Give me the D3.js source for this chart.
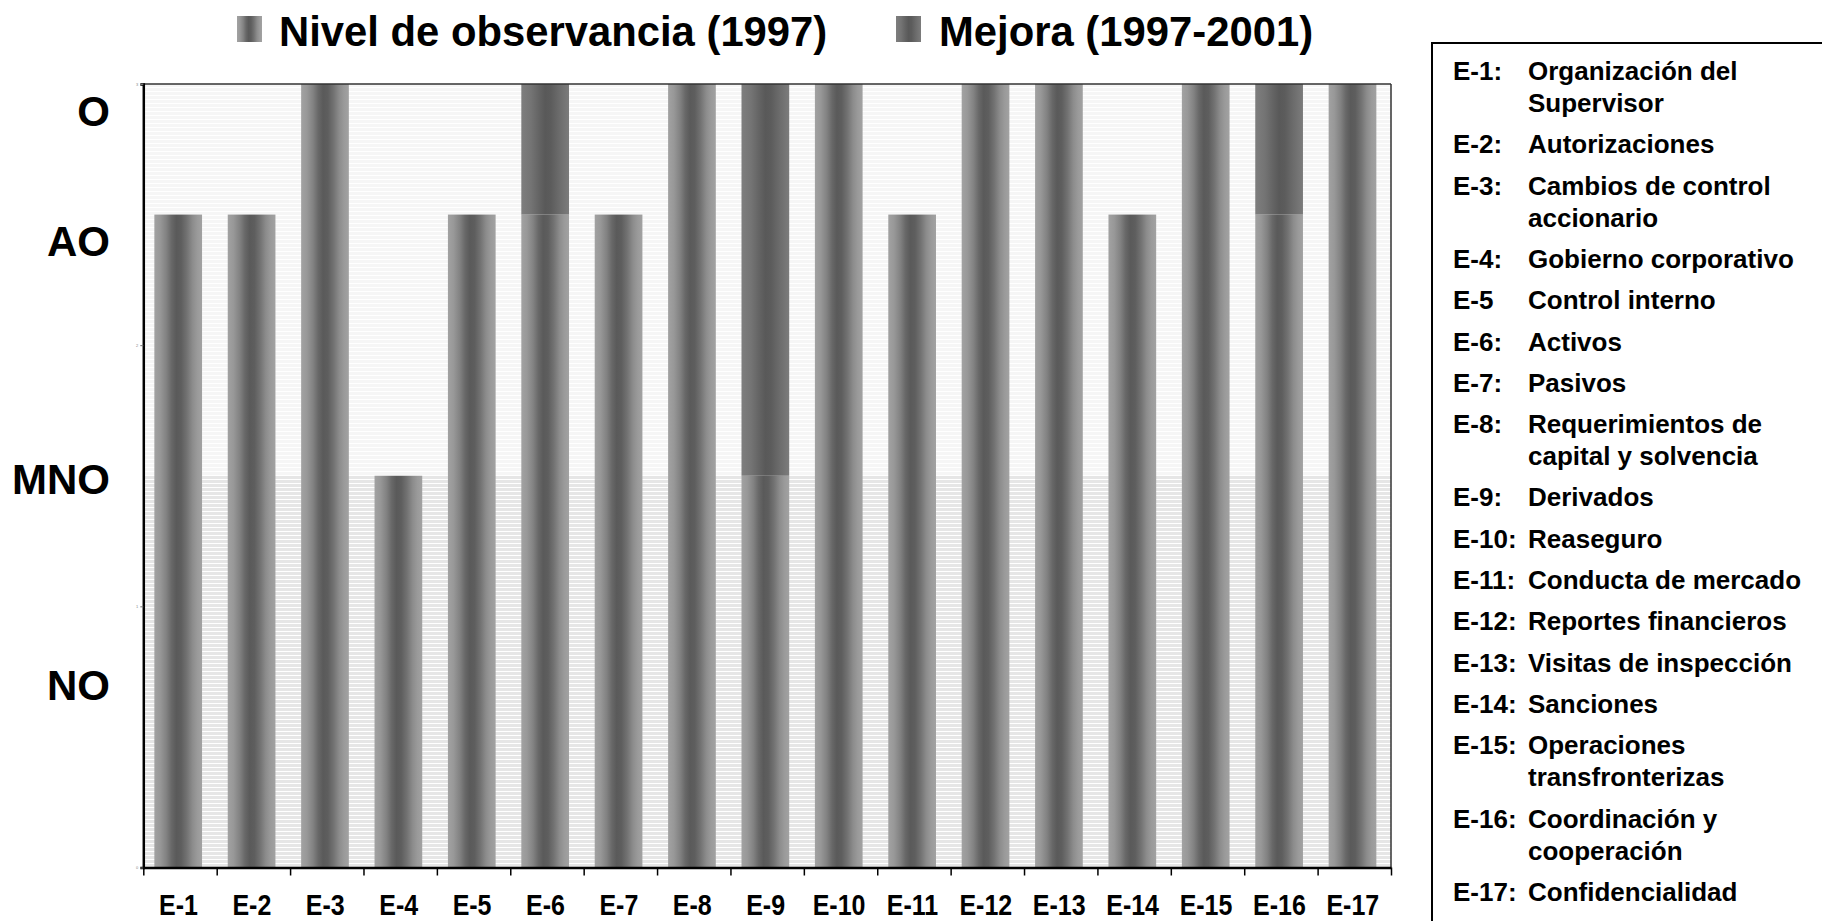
<!DOCTYPE html>
<html>
<head>
<meta charset="utf-8">
<script src="https://cdn.jsdelivr.net/npm/d3@7"></script>
<style>
  html, body { margin: 0; padding: 0; background: #fff; }
  svg { display: block; font-family: "Liberation Sans", Arial, sans-serif; }
</style>
</head>
<body>
<svg id="chart" width="1822" height="921"></svg>
<script>
// ---------- DATA ----------
const categories = ["E-1","E-2","E-3","E-4","E-5","E-6","E-7","E-8","E-9","E-10","E-11","E-12","E-13","E-14","E-15","E-16","E-17"];
const nivel1997  = [2.5, 2.5, 3, 1.5, 2.5, 2.5, 2.5, 3, 1.5, 3, 2.5, 3, 3, 2.5, 3, 2.5, 3];
const mejora     = [0, 0, 0, 0, 0, 0.5, 0, 0, 1.5, 0, 0, 0, 0, 0, 0, 0.5, 0];
const seriesNames = ["Nivel de observancia (1997)", "Mejora (1997-2001)"];
const levelLabels = ["O", "AO", "MNO", "NO"];
const levelLabelValues = [2.84, 2.34, 1.43, 0.64];
const yTickValues = [0, 1, 2, 3];
const zoneSplit = 1.5;
const legendKeys = ["E-1:","E-2:","E-3:","E-4:","E-5","E-6:","E-7:","E-8:","E-9:","E-10:","E-11:","E-12:","E-13:","E-14:","E-15:","E-16:","E-17:"];
const legendDescriptions = [
  ["Organización del","Supervisor"],
  ["Autorizaciones"],
  ["Cambios de control","accionario"],
  ["Gobierno corporativo"],
  ["Control interno"],
  ["Activos"],
  ["Pasivos"],
  ["Requerimientos de","capital y solvencia"],
  ["Derivados"],
  ["Reaseguro"],
  ["Conducta de mercado"],
  ["Reportes financieros"],
  ["Visitas de inspección"],
  ["Sanciones"],
  ["Operaciones","transfronterizas"],
  ["Coordinación y","cooperación"],
  ["Confidencialidad"]
];

// ---------- LAYOUT ----------
const plot = { left: 143.3, right: 1391, top: 84, bottom: 867.5 };
const svg = d3.select("#chart");
const defs = svg.append("defs");

// gradients
function gradient(id, stops) {
  const g = defs.append("linearGradient").attr("id", id)
    .attr("x1", 0).attr("x2", 1).attr("y1", 0).attr("y2", 0);
  stops.forEach(s => g.append("stop").attr("offset", s[0]).attr("stop-color", s[1]));
}
gradient("gBase", [[0,"#a2a2a2"],[0.12,"#989898"],[0.25,"#828282"],[0.36,"#686868"],[0.46,"#5a5a5a"],[0.56,"#5e5e5e"],[0.68,"#727272"],[0.8,"#8c8c8c"],[0.9,"#9a9a9a"],[1,"#a2a2a2"]]);
gradient("gMejora", [[0,"#7e7e7e"],[0.2,"#747474"],[0.38,"#636363"],[0.5,"#595959"],[0.62,"#5c5c5c"],[0.8,"#6c6c6c"],[1,"#7c7c7c"]]);

function stripes(id, base, line) {
  const p = defs.append("pattern").attr("id", id).attr("patternUnits", "userSpaceOnUse")
    .attr("width", 8).attr("height", 4);
  p.append("rect").attr("width", 8).attr("height", 4).attr("fill", base);
  p.append("rect").attr("y", 3).attr("width", 8).attr("height", 1).attr("fill", line);
}
stripes("pUpper", "#f6f6f6", "#ffffff");
stripes("pLower", "#e6e6e6", "#ffffff");

// scales
const y = d3.scaleLinear().domain([0, 3]).range([plot.bottom, plot.top]);
const x = d3.scaleBand().domain(categories).range([plot.left, plot.right])
  .paddingInner(0.35).paddingOuter(0.175);
const xb = d3.scaleLinear().domain([0, categories.length]).range([plot.left, plot.right]);

// background zones
svg.append("rect").attr("x", plot.left).attr("width", plot.right - plot.left)
  .attr("y", y(3)).attr("height", y(zoneSplit) - y(3)).attr("fill", "url(#pUpper)");
svg.append("rect").attr("x", plot.left).attr("width", plot.right - plot.left)
  .attr("y", y(zoneSplit)).attr("height", y(0) - y(zoneSplit)).attr("fill", "url(#pLower)");

// stacked bars
const rows = categories.map((c, i) => ({ cat: c, base: nivel1997[i], mejora: mejora[i] }));
const stack = d3.stack().keys(["base", "mejora"])(rows);
const fills = ["url(#gBase)", "url(#gMejora)"];
const barG = svg.append("g").attr("transform", "translate(-1.8,0)");
stack.forEach((layer, li) => {
  barG.append("g").selectAll("rect")
    .data(layer.filter(d => d[1] - d[0] > 0))
    .join("rect")
    .attr("x", d => x(d.data.cat))
    .attr("width", x.bandwidth())
    .attr("y", d => y(d[1]))
    .attr("height", d => y(d[0]) - y(d[1]))
    .attr("fill", fills[li]);
});

// frame top & right
svg.append("line").attr("x1", plot.left).attr("x2", plot.right).attr("y1", plot.top).attr("y2", plot.top)
  .attr("stroke", "#333").attr("stroke-width", 1.5);
svg.append("line").attr("x1", plot.right).attr("x2", plot.right).attr("y1", plot.top).attr("y2", plot.bottom)
  .attr("stroke", "#333").attr("stroke-width", 1.5);

// y axis (tiny ticks)
const yAxis = svg.append("g").attr("transform", `translate(${plot.left},0)`)
  .call(d3.axisLeft(y).tickValues(yTickValues).tickSize(3).tickPadding(2).tickFormat(d3.format("d")));
yAxis.select(".domain").attr("stroke", "#000").attr("stroke-width", 2.5);
yAxis.selectAll(".tick line").attr("stroke", "#777");
yAxis.selectAll(".tick text").attr("font-size", 4).attr("fill", "#888");

// x axis: boundary ticks
const xAxis = svg.append("g").attr("transform", `translate(0,${plot.bottom})`)
  .call(d3.axisBottom(xb).tickValues(d3.range(categories.length + 1)).tickSize(8).tickSizeOuter(0).tickFormat(""));
xAxis.select(".domain").attr("stroke", "#000").attr("stroke-width", 2.5);
xAxis.selectAll(".tick line").attr("stroke", "#000").attr("stroke-width", 1.5);

// x labels
svg.append("g").selectAll("text").data(categories).join("text")
  .attr("transform", d => `translate(${x(d) + x.bandwidth() / 2 - 1.5},915) scale(1,1.18)`)
  .attr("text-anchor", "middle").attr("font-size", 25).attr("font-weight", "bold")
  .text(d => d);

// level labels
svg.append("g").selectAll("text").data(levelLabels).join("text")
  .attr("x", 110).attr("y", (d, i) => y(levelLabelValues[i]))
  .attr("text-anchor", "end").attr("font-size", 42).attr("font-weight", "bold")
  .text(d => d);

// top legend
const topLegend = [
  { name: seriesNames[0], fill: "url(#gBase)", sx: 237, tx: 279 },
  { name: seriesNames[1], fill: "url(#gMejora)", sx: 896, tx: 939 }
];
const tl = svg.append("g").selectAll("g").data(topLegend).join("g");
tl.append("rect").attr("x", d => d.sx).attr("y", 16).attr("width", 25).attr("height", 26).attr("fill", d => d.fill);
tl.append("text").attr("x", d => d.tx).attr("y", 46).attr("font-size", 41.8).attr("font-weight", "bold")
  .text(d => d.name);

// right legend box
svg.append("rect").attr("x", 1432).attr("y", 43).attr("width", 500).attr("height", 1000)
  .attr("fill", "none").attr("stroke", "#000").attr("stroke-width", 2);
const lg = svg.append("g").attr("font-size", 26).attr("font-weight", "bold");
let ly = 80;
legendKeys.forEach((k, i) => {
  lg.append("text").attr("x", 1453).attr("y", ly).text(k);
  legendDescriptions[i].forEach((line, j) => {
    lg.append("text").attr("x", 1528).attr("y", ly + j * 32).text(line);
  });
  ly += (legendDescriptions[i].length - 1) * 32 + 41.3;
});
</script>
</body>
</html>
